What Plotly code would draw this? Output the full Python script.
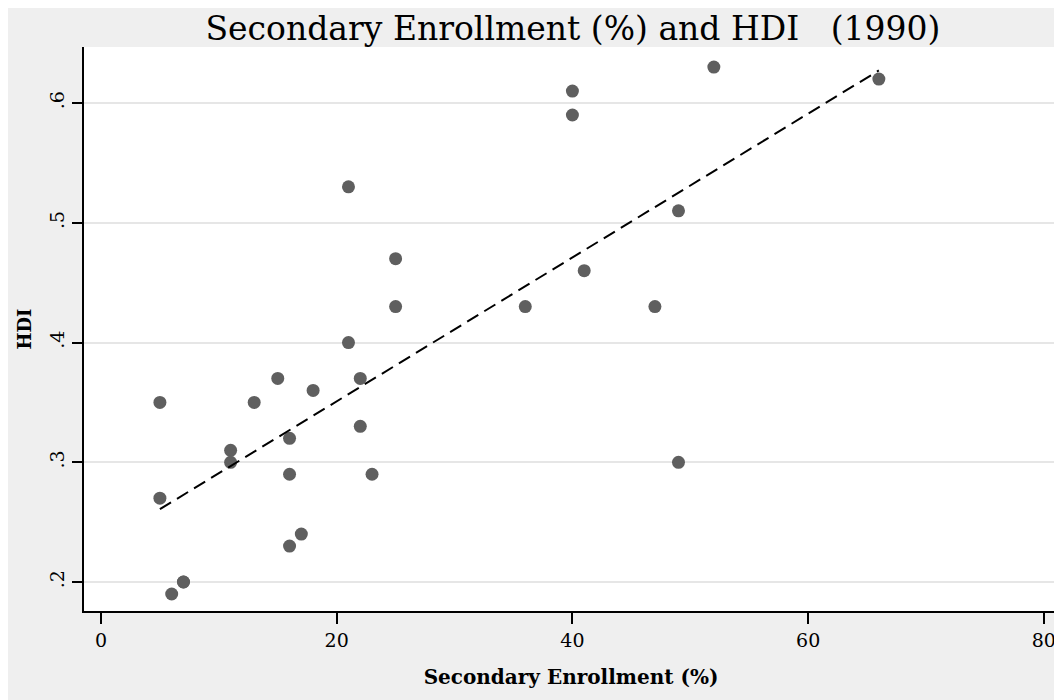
import numpy as np
import plotly.graph_objects as go

enrollment = [5, 5, 6, 7, 7, 11, 11, 13, 15, 16, 16, 16, 17, 18, 21, 21, 22, 22, 23,
              25, 25, 36, 40, 40, 41, 47, 49, 49, 52, 66]
hdi = [0.35, 0.27, 0.19, 0.20, 0.20, 0.31, 0.30, 0.35, 0.37, 0.32, 0.29, 0.23, 0.24, 0.36,
       0.53, 0.40, 0.37, 0.33, 0.29, 0.47, 0.43, 0.43, 0.61, 0.59, 0.46, 0.43, 0.51, 0.30,
       0.63, 0.62]
x_ticks = [0, 20, 40, 60, 80]
y_ticks = [0.2, 0.3, 0.4, 0.5, 0.6]
y_tick_labels = [".2", ".3", ".4", ".5", ".6"]

slope, intercept = np.polyfit(enrollment, hdi, 1)
fit_x = [min(enrollment), max(enrollment)]
fit_y = [intercept + slope * v for v in fit_x]

font = "DejaVu Serif"
fig = go.Figure()
fig.add_trace(go.Scatter(x=enrollment, y=hdi, mode="markers",
                         marker=dict(color="#5f5f5f", size=13, line=dict(width=0)),
                         showlegend=False))
fig.add_trace(go.Scatter(x=fit_x, y=fit_y, mode="lines",
                         line=dict(color="black", width=2, dash="13px,7px"),
                         showlegend=False))

fig.update_layout(
    width=1054, height=692,
    paper_bgcolor="#efefef", plot_bgcolor="white",
    margin=dict(l=76, r=4, t=39, b=89),
    font=dict(family=font, color="black"),
    title=dict(text="Secondary Enrollment (%) and HDI   (1990)", x=0.536, xanchor="center",
               y=0.971, yanchor="middle", font=dict(size=33, family=font, color="black")),
    xaxis=dict(range=[-1.44, 81.2], tickvals=x_ticks, ticks="outside", ticklen=11,
               tickwidth=1.5, tickcolor="black", showline=True, linecolor="black", linewidth=2,
               showgrid=False, zeroline=False, tickfont=dict(size=19),
               title=dict(text="<b>Secondary Enrollment (%)</b>", font=dict(size=20), standoff=20)),
    yaxis=dict(range=[0.1758, 0.6468], tickvals=y_ticks, ticktext=y_tick_labels,
               ticks="outside", ticklen=10, tickwidth=1.5, tickcolor="black", tickangle=-90,
               showline=True, linecolor="black", linewidth=2, showgrid=True,
               gridcolor="#e6e6e6", gridwidth=1.5, zeroline=False, tickfont=dict(size=19),
               title=dict(text="<b>HDI</b>", font=dict(size=18), standoff=10)),
)
fig.write_html("out.html")
